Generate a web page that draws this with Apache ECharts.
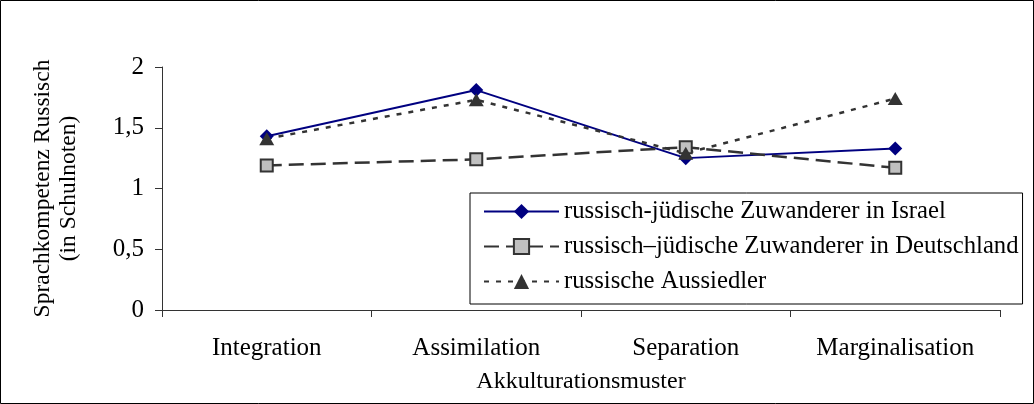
<!DOCTYPE html>
<html>
<head>
<meta charset="utf-8">
<script src="https://cdn.jsdelivr.net/npm/echarts@6/dist/echarts.min.js"></script>
<style>
  html, body { margin: 0; padding: 0; background: #fff; }
  #chart { width: 1034px; height: 404px; }
</style>
</head>
<body>
<div id="chart"></div>
<script>
// Acculturation patterns on the category axis
const categories = ['Integration', 'Assimilation', 'Separation', 'Marginalisation'];
// Russian language competence (school grades) per group
const israel = [1.43, 1.81, 1.25, 1.33];
const deutschland = [1.19, 1.24, 1.34, 1.17];
const aussiedler = [1.41, 1.73, 1.29, 1.74];
const seriesNames = [
  'russisch-jüdische Zuwanderer in Israel',
  'russisch–jüdische Zuwanderer in Deutschland',
  'russische Aussiedler'
];
const yTicks = [0, 0.5, 1, 1.5, 2];

const FONT = '"Liberation Serif", "Times New Roman", serif';
const AXIS = '#333';

const chart = echarts.init(document.getElementById('chart'), null, { renderer: 'canvas' });

chart.setOption({
  animation: false,
  backgroundColor: '#fff',
  textStyle: { fontFamily: FONT, color: '#000' },
  graphic: [{
    // frame around the whole chart area
    type: 'rect',
    shape: { x: 0.5, y: 0.5, width: 1033, height: 403 },
    style: { fill: 'none', stroke: '#000', lineWidth: 1 },
    silent: true
  }],
  grid: { left: 162, right: 34, top: 67, bottom: 94 },
  legend: {
    orient: 'vertical',
    left: 470,
    top: 193,
    padding: [6, 4, 10, 13],
    itemGap: 10,
    itemWidth: 75,
    itemHeight: 19,
    borderColor: '#000',
    borderWidth: 1,
    backgroundColor: '#fff',
    textStyle: { fontFamily: FONT, fontSize: 24.7, color: '#000' },
    data: seriesNames
  },
  xAxis: {
    type: 'category',
    data: categories,
    boundaryGap: true,
    name: 'Akkulturationsmuster',
    nameLocation: 'middle',
    nameGap: 60,
    nameTextStyle: { fontFamily: FONT, fontSize: 24, color: '#000' },
    axisLine: { lineStyle: { color: AXIS, width: 1 } },
    axisTick: { show: true, length: 7, alignWithLabel: false, lineStyle: { color: AXIS } },
    axisLabel: { margin: 26, fontFamily: FONT, fontSize: 25, color: '#000' },
    splitLine: { show: false }
  },
  yAxis: {
    type: 'value',
    min: yTicks[0],
    max: yTicks[yTicks.length - 1],
    interval: 0.5,
    name: 'Sprachkompetenz Russisch\n(in Schulnoten)',
    nameLocation: 'middle',
    nameRotate: 90,
    nameGap: 80,
    nameTextStyle: { fontFamily: FONT, fontSize: 23.5, color: '#000', lineHeight: 26 },
    axisLine: { show: true, lineStyle: { color: AXIS, width: 1 } },
    axisTick: { show: true, length: 7, lineStyle: { color: AXIS } },
    axisLabel: {
      margin: 18,
      fontFamily: FONT,
      fontSize: 25,
      color: '#000',
      formatter: v => String(v).replace('.', ',')
    },
    splitLine: { show: false }
  },
  series: [
    {
      name: seriesNames[0],
      type: 'line',
      data: israel,
      symbol: 'diamond',
      symbolSize: 14,
      itemStyle: { color: '#000080' },
      lineStyle: { color: '#000080', width: 2 }
    },
    {
      name: seriesNames[1],
      type: 'line',
      data: deutschland,
      symbol: 'rect',
      symbolSize: 12,
      itemStyle: { color: '#c0c0c0', borderColor: '#333', borderWidth: 2 },
      lineStyle: { color: '#333', width: 2.5, type: [15, 7] }
    },
    {
      name: seriesNames[2],
      type: 'line',
      data: aussiedler,
      symbol: 'triangle',
      symbolSize: [15, 13],
      itemStyle: { color: '#333' },
      lineStyle: { color: '#333', width: 2.5, type: [5, 7] }
    }
  ]
});
</script>
</body>
</html>
